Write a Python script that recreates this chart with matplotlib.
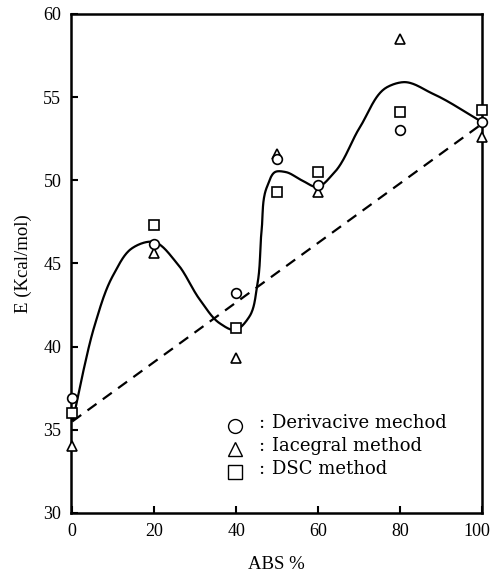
import numpy as np
import matplotlib
matplotlib.use("Agg")
import matplotlib.pyplot as plt
import matplotlib.transforms as mtransforms

plt.rcParams['font.family'] = ['Liberation Serif', 'DejaVu Serif']

# measured points
abs_pct = [0, 20, 40, 50, 60, 80, 100]
e_deriv = [36.9, 46.2, 43.2, 51.3, 49.7, 53.0, 53.5]
e_integ = [34.0, 45.6, 39.3, 51.6, 49.3, 58.5, 52.6]
e_dsc = [36.0, 47.3, 41.1, 49.3, 50.5, 54.1, 54.2]

# hand-drawn smooth curve (knots)
curve_x = [0.2, 2.5, 5.5, 10.0, 14.5, 19.8, 25.6, 31.2, 36.0, 39.8, 43.2, 45.2,
           46.2, 47.5, 49.5, 52.0, 56.0, 59.8, 63.7, 70.2, 76.8, 80.7, 88.0, 100]
curve_y = [35.6, 38.3, 41.3, 44.3, 45.9, 46.3, 45.0, 42.8, 41.4, 41.0, 41.8, 43.8,
           47.0, 49.6, 50.5, 50.5, 50.0, 49.6, 50.4, 53.2, 55.6, 55.9, 55.2, 53.5]

# dashed linear trend
line_x = [0, 100]
line_y = [35.5, 53.4]

legend_labels = ['Derivacive mechod', 'Iacegral method', 'DSC method']


def smooth(xs, ys, n=30):
    # parametric cubic hermite through the knots
    p = np.column_stack([np.array(xs) / 100.0, np.array(ys) / 30.0])
    d = np.r_[0, np.cumsum(np.hypot(*np.diff(p, axis=0).T))]
    m = np.gradient(p, d, axis=0)
    out = []
    for i in range(len(p) - 1):
        h = d[i + 1] - d[i]
        t = np.linspace(0, 1, n, endpoint=False)[:, None]
        h00 = 2 * t**3 - 3 * t**2 + 1
        h10 = t**3 - 2 * t**2 + t
        h01 = -2 * t**3 + 3 * t**2
        h11 = t**3 - t**2
        out.append(h00 * p[i] + h10 * h * m[i] + h01 * p[i + 1] + h11 * h * m[i + 1])
    out.append(p[-1:])
    out = np.vstack(out)
    return out[:, 0] * 100, out[:, 1] * 30


fig = plt.figure(figsize=(4.93, 5.82), dpi=100)
ax = fig.add_axes([0.144, 0.1186, 0.834, 0.8574])

sx, sy = smooth(curve_x, curve_y)
ax.plot(sx, sy, color='k', lw=1.6)
ax.plot(line_x, line_y, color='k', lw=1.6, linestyle=(0, (5, 3.5)))

mk = dict(linestyle='none', mfc='white', mec='k', mew=1.2, ms=7, clip_on=False, zorder=3)
ax.plot(abs_pct, e_dsc, marker='s', **mk)
ax.plot(abs_pct, e_integ, marker='^', **mk)
ax.plot(abs_pct, e_deriv, marker='o', **mk)

# legend drawn by hand
lmk = dict(linestyle='none', mfc='white', mec='k', mew=1.0, ms=10,
           transform=ax.transAxes, clip_on=False)
for i, (m, lab) in enumerate(zip(['o', '^', 's'], legend_labels)):
    yy = 0.18 - i * 0.046
    ax.plot([0.399], [yy - 0.006], marker=m, **lmk)
    ax.text(0.455, yy, ':', transform=ax.transAxes, fontsize=13,
            va='center', ha='left', family='DejaVu Serif')
    ax.text(0.489, yy, lab, transform=ax.transAxes, fontsize=13,
            va='center', ha='left', family='DejaVu Serif')

ax.set_xlim(-0.3, 100)
ax.set_ylim(30, 60)
ax.set_xticks([0, 20, 40, 60, 80, 100])
ax.set_yticks([30, 35, 40, 45, 50, 55, 60])
ax.tick_params(direction='in', length=5, width=1.5, labelsize=13, pad=7)
for s in ax.spines.values():
    s.set_linewidth(1.8)

# nudge the last x label so it stays inside the figure
lbl = ax.get_xticklabels()[-1]
lbl.set_transform(lbl.get_transform() + mtransforms.ScaledTranslation(-4 / 72, 0, fig.dpi_scale_trans))

ax.set_xlabel('ABS %', fontsize=13.5, labelpad=12)
ax.set_ylabel('E (Kcal/mol)', fontsize=13.5, labelpad=8)

fig.savefig('out.png', dpi=100)
